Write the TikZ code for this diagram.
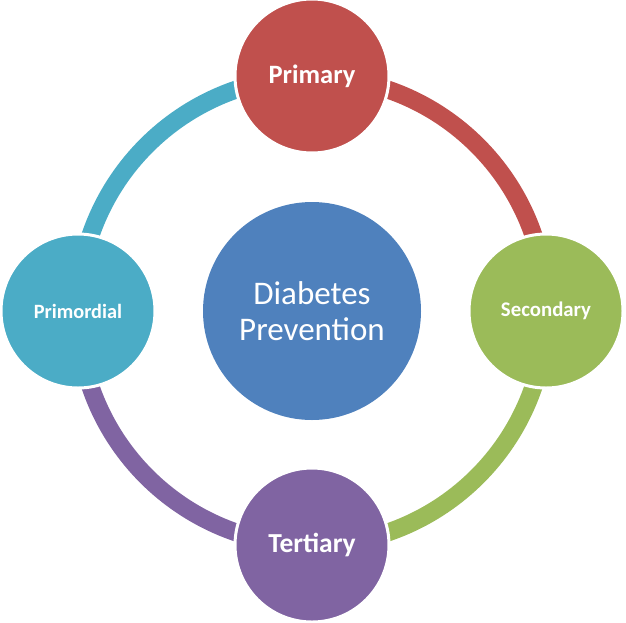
\documentclass[tikz,border=0pt]{standalone}
\usepackage{fontspec}
\setmainfont{Carlito}
\definecolor{cred}{HTML}{C0504D}
\definecolor{cgreen}{HTML}{9BBB59}
\definecolor{cpurple}{HTML}{8064A2}
\definecolor{cteal}{HTML}{4BACC6}
\definecolor{cblue}{HTML}{4F81BD}
\begin{document}
\begin{tikzpicture}[x=1pt,y=1pt,
  ring/.style={line width=18pt},
  sat/.style={circle,minimum size=154pt,draw=white,line width=3pt,text=white,font=\bfseries,inner sep=0pt}]
\useasboundingbox (0,0) rectangle (626,-622);
\coordinate (c) at (312,-311);
\draw[ring,cred] (c) ++(90:234) arc[start angle=90,end angle=0,radius=234];
\draw[ring,cgreen] (c) ++(0:234) arc[start angle=0,end angle=-90,radius=234];
\draw[ring,cpurple] (c) ++(-90:234) arc[start angle=-90,end angle=-180,radius=234];
\draw[ring,cteal] (c) ++(180:234) arc[start angle=180,end angle=90,radius=234];
\node[circle,fill=cblue,minimum size=218pt,text=white,align=center,font=\fontsize{33}{36}\selectfont,inner sep=0pt] (center) at (c) {Diabetes\\Prevention};
\node[sat,fill=cred,font=\bfseries\fontsize{26.5}{30}\selectfont] (pri) at (312,-76) {Primary};
\node[sat,fill=cgreen,font=\bfseries\fontsize{20.8}{24}\selectfont] (sec) at (546,-311) {Secondary};
\node[sat,fill=cpurple,font=\bfseries\fontsize{27.5}{31}\selectfont] (ter) at (312,-545) {Tertiary};
\node[sat,fill=cteal,font=\bfseries\fontsize{20.3}{24}\selectfont] (prim) at (78,-311) {Primordial};
\end{tikzpicture}
\end{document}
